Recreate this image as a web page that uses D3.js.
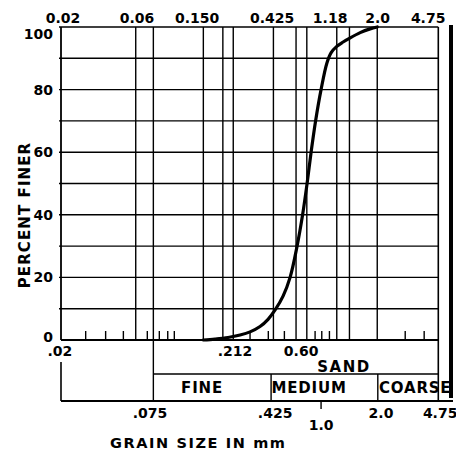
<!DOCTYPE html>
<html>
<head>
<meta charset="utf-8">
<script src="https://cdn.jsdelivr.net/npm/d3@7"></script>
<style>
  html, body { margin: 0; padding: 0; background: #fff; }
  svg { display: block; }
  text { font-family: "DejaVu Sans", sans-serif; font-weight: bold; fill: #000; }
</style>
</head>
<body>
<svg id="chart" width="456" height="453"></svg>
<script>
// ---------- data ----------
// grain-size distribution curve
const grainSize   = [0.157, 0.1866, 0.2254, 0.2683, 0.310, 0.3584, 0.4025, 0.446, 0.5003, 0.554, 0.6131, 0.6641, 0.7087, 0.7512, 0.8017, 0.868, 0.945, 1.005, 1.09, 1.195, 1.30, 1.53, 1.767, 1.96];
const percentFiner= [0,     0.3,    0.8,    1.6,    2.6,   4.3,    6.6,    9.6,   14,     20,    30,     40,     50,     60,     70,     80,    88.5,  91.8,  93.8, 95.2,  96.3, 98.2, 99.4,  100];

// vertical grid lines (sieve sizes, mm, as drawn)
const gridSizes   = [0.0591, 0.0763, 0.1575, 0.209, 0.243, 0.435, 0.604, 0.706, 1.09, 1.31, 1.96];
// short tick marks on the 0 % line
const minorTicks  = [0.0286, 0.0382, 0.0494, 0.0699, 0.0832, 0.094, 0.1034, 0.31, 0.404, 0.51, 0.796, 0.877, 0.98, 2.94, 3.87];

// tick labels along the top and where they sit
const topLabels   = ['0.02', '0.06', '0.150', '0.425', '1.18', '2.0', '4.75'];
const topLabelAt  = [0.0206, 0.0602, 0.144, 0.427, 0.99, 1.97, 4.10];

// labels just under the 0 % line
const zeroLabels  = ['.02', '.212', '0.60'];
const zeroLabelAt = [0.0197, 0.249, 0.65];

// labels under the classification table
const bottomLabels  = ['.075', '.425', '1.0', '2.0', '4.75'];
const bottomLabelAt = [0.0727, 0.446, 0.868, 2.07, 4.88];
const bottomLow     = [false, false, true, false, false];

// sand classification table
const sandClasses  = ['FINE', 'MEDIUM', 'COARSE'];
const sandBounds   = [0.0763, 0.4206, 1.976, 4.75];
const sandLabelAt  = [0.1545, 0.7297, 3.40];
const sandTitleAt  = 1.21;

// y axis
const yTicks = [0, 20, 40, 60, 80, 100];
const yGrid  = [10, 20, 30, 40, 50, 60, 70, 80, 90, 100];

// ---------- layout ----------
const svg = d3.select('#chart');
const x = d3.scaleLog().domain([0.02, 4.75]).range([61, 438.3]);
const y = d3.scaleLinear().domain([0, 100]).range([340, 27]);

const rowMid = 374, rowBot = 401;

const g = svg.append('g');

// horizontal grid lines
g.selectAll('line.hgrid').data(yGrid).join('line')
  .attr('x1', x(0.02) - 2).attr('x2', x(4.75))
  .attr('y1', d => y(d)).attr('y2', d => y(d))
  .attr('stroke', '#000').attr('stroke-width', d => d === 100 ? 1.6 : 1.4);

// zero line
g.append('line')
  .attr('x1', x(0.02)).attr('x2', x(4.75))
  .attr('y1', y(0)).attr('y2', y(0))
  .attr('stroke', '#000').attr('stroke-width', 1.8);

// vertical grid lines
g.selectAll('line.vgrid').data(gridSizes).join('line')
  .attr('x1', d => x(d)).attr('x2', d => x(d))
  .attr('y1', y(100)).attr('y2', y(0))
  .attr('stroke', '#000').attr('stroke-width', 1.4);

// left axis and right border of plot
g.append('line').attr('x1', x(0.02)).attr('x2', x(0.02))
  .attr('y1', y(100)).attr('y2', y(0)).attr('stroke', '#000').attr('stroke-width', 1.8);
g.append('line').attr('x1', x(4.75)).attr('x2', x(4.75))
  .attr('y1', y(100)).attr('y2', rowBot).attr('stroke', '#000').attr('stroke-width', 1.6);

// thick right bar
g.append('rect').attr('x', 449).attr('y', 25).attr('width', 4).attr('height', rowBot - 3 - 25).attr('fill', '#000');

// minor ticks on zero line
g.selectAll('line.minor').data(minorTicks).join('line')
  .attr('x1', d => x(d)).attr('x2', d => x(d))
  .attr('y1', y(0) - 9).attr('y2', y(0))
  .attr('stroke', '#000').attr('stroke-width', 1.4);

// classification table
g.append('line').attr('x1', x(0.02)).attr('x2', x(0.02))
  .attr('y1', 362).attr('y2', rowBot).attr('stroke', '#000').attr('stroke-width', 1.6);
g.append('line').attr('x1', x(sandBounds[0])).attr('x2', x(sandBounds[0]))
  .attr('y1', y(0)).attr('y2', rowBot).attr('stroke', '#000').attr('stroke-width', 1.4);
g.append('line').attr('x1', x(sandBounds[0])).attr('x2', x(4.75))
  .attr('y1', rowMid).attr('y2', rowMid).attr('stroke', '#000').attr('stroke-width', 1.4);
g.selectAll('line.div').data(sandBounds.slice(1, 3)).join('line')
  .attr('x1', d => x(d)).attr('x2', d => x(d))
  .attr('y1', rowMid).attr('y2', rowBot).attr('stroke', '#000').attr('stroke-width', 1.4);
g.append('line').attr('x1', x(0.02)).attr('x2', 453)
  .attr('y1', rowBot).attr('y2', rowBot).attr('stroke', '#000').attr('stroke-width', 2.2);
// tick at 1.0
g.append('line').attr('x1', x(bottomLabelAt[2])).attr('x2', x(bottomLabelAt[2]))
  .attr('y1', rowBot).attr('y2', rowBot + 8).attr('stroke', '#000').attr('stroke-width', 1.4);

// curve
const pts = grainSize.map((d, i) => [x(d), y(percentFiner[i])]);
g.append('path')
  .attr('d', d3.line().curve(d3.curveCatmullRom.alpha(0.5))(pts))
  .attr('fill', 'none').attr('stroke', '#000').attr('stroke-width', 3.2)
  .attr('stroke-linecap', 'round').attr('stroke-linejoin', 'round');

// ---------- text ----------
const fs = 14;
// top labels
svg.selectAll('text.top').data(topLabels).join('text')
  .attr('x', (d, i) => x(topLabelAt[i])).attr('y', 23)
  .attr('text-anchor', 'middle').attr('font-size', fs)
  .text(d => d);

// y labels
svg.selectAll('text.ylab').data(yTicks.filter(d => d > 0)).join('text')
  .attr('x', 53).attr('y', d => y(d) + (d === 100 ? 12 : 5))
  .attr('text-anchor', 'end').attr('font-size', fs)
  .text(d => d);
svg.append('text').attr('x', 53).attr('y', y(0) + 2)
  .attr('text-anchor', 'end').attr('font-size', fs).text(yTicks[0]);

// y title
svg.append('text')
  .attr('transform', `translate(30,${215}) rotate(-90)`)
  .attr('text-anchor', 'middle').attr('font-size', 15).attr('letter-spacing', 1.1)
  .text('PERCENT FINER');

// zero-line labels
svg.selectAll('text.zl').data(zeroLabels).join('text')
  .attr('x', (d, i) => x(zeroLabelAt[i])).attr('y', 356)
  .attr('text-anchor', 'middle').attr('font-size', fs)
  .text(d => d);

// SAND
svg.append('text').attr('x', x(sandTitleAt)).attr('y', 372)
  .attr('text-anchor', 'middle').attr('font-size', 15).attr('letter-spacing', 1.5)
  .text('SAND');

// classes
svg.selectAll('text.cls').data(sandClasses).join('text')
  .attr('x', (d, i) => x(sandLabelAt[i])).attr('y', 393)
  .attr('text-anchor', 'middle').attr('font-size', 15).attr('letter-spacing', 0.8)
  .text(d => d);

// bottom labels
svg.selectAll('text.bl').data(bottomLabels).join('text')
  .attr('x', (d, i) => x(bottomLabelAt[i])).attr('y', (d, i) => bottomLow[i] ? 430 : 418)
  .attr('text-anchor', 'middle').attr('font-size', fs)
  .text(d => d);

// x title
svg.append('text').attr('x', 110).attr('y', 448)
  .attr('font-size', 14.5).attr('letter-spacing', 1.6)
  .text('GRAIN SIZE IN mm');
</script>
</body>
</html>
